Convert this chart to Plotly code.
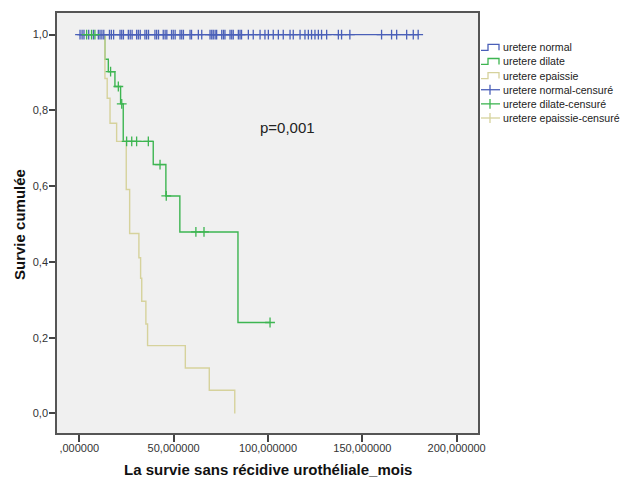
import plotly.graph_objects as go

# ---- data ----
normal_x = [0.0, 179.6]
normal_y = [1.0, 1.0]
normal_cens_x = [0.4, 1.5, 2.5, 5.0, 7.5, 10.1, 11.0, 12.0, 13.0, 16.0, 17.0, 18.2,
                 21.6, 22.5, 23.4, 26.0, 27.0, 28.0, 30.4, 31.3, 32.3, 34.8, 35.7, 36.7,
                 40.1, 41.0, 42.0, 44.5, 45.5, 46.4, 48.9, 49.8, 50.8, 53.4, 54.3, 55.2,
                 58.7, 59.5, 63.1, 64.9, 69.3, 70.2, 71.0, 72.0, 72.8, 75.5, 76.4, 77.2,
                 79.9, 80.8, 81.6, 84.3, 85.2, 86.0, 89.6, 92.2, 95.8, 98.4, 100.2, 102.8,
                 105.5, 108.1, 111.7, 113.4, 117.0, 119.6, 121.4, 123.1, 124.9, 126.7,
                 128.4, 131.1, 137.3, 139.0, 143.4, 160.2, 165.5, 168.2, 173.5, 177.0, 179.6]
normal_cens_y = [1.0] * len(normal_cens_x)

dilate_x = [0.0, 13.6, 15.4, 18.9, 21.9, 23.3, 39.2, 45.9, 53.3, 84.1, 101.1]
dilate_y = [1.0, 0.935, 0.902, 0.863, 0.817, 0.718, 0.657, 0.574, 0.479, 0.240, 0.240]
dilate_cens_x = [3.9, 6.5, 8.3, 16.6, 20.7, 22.5, 25.1, 27.8, 30.4, 36.6, 42.8, 46.1, 61.8, 66.1, 101.1]
dilate_cens_y = [1.0, 1.0, 1.0, 0.902, 0.863, 0.817, 0.718, 0.718, 0.718, 0.718, 0.657, 0.574, 0.479, 0.479, 0.240]

epaissie_x = [0.0, 13.6, 14.8, 16.3, 19.8, 24.9, 26.7, 31.6, 32.5, 33.1, 35.3, 36.2, 56.2, 68.9, 82.4]
epaissie_y = [1.0, 0.884, 0.832, 0.766, 0.718, 0.591, 0.475, 0.411, 0.357, 0.296, 0.236, 0.179, 0.120, 0.061, 0.0]

x_tickvals = [0, 50, 100, 150, 200]
x_ticktext = [",000000", "50,000000", "100,000000", "150,000000", "200,000000"]
y_tickvals = [0.0, 0.2, 0.4, 0.6, 0.8, 1.0]
y_ticktext = ["0,0", "0,2", "0,4", "0,6", "0,8", "1,0"]

legend_names = ["uretere normal", "uretere dilate", "uretere epaissie",
                "uretere normal-censuré", "uretere dilate-censuré", "uretere epaissie-censuré"]

BLUE = "#4a5fb8"
GREEN = "#3db551"
TAN = "#d6d29c"
colors = [BLUE, GREEN, TAN, BLUE, GREEN, TAN]

OFF = 8  # page body margin
W, H = 630 - OFF, 479 - OFF
# plot area in screen pixels: x 57..478, y 11..433
ML = 57 - OFF
MT = 11 - OFF
MR = W - (478 - OFF)
MB = H - (433 - OFF)
PW, PH = W - ML - MR, H - MT - MB


def px(x):
    """screen x pixel -> paper coordinate"""
    return (x - OFF - ML) / PW


def py(y):
    """screen y pixel -> paper coordinate"""
    return (H - MB - (y - OFF)) / PH


fig = go.Figure()
fig.add_trace(go.Scatter(x=normal_x, y=normal_y, mode="lines", line=dict(color=BLUE, width=1.2, shape="hv"),
                         name=legend_names[0], showlegend=False))
fig.add_trace(go.Scatter(x=dilate_x, y=dilate_y, mode="lines", line=dict(color=GREEN, width=1.4, shape="hv"),
                         name=legend_names[1], showlegend=False))
fig.add_trace(go.Scatter(x=epaissie_x, y=epaissie_y, mode="lines", line=dict(color=TAN, width=1.4, shape="hv"),
                         name=legend_names[2], showlegend=False))
fig.add_trace(go.Scatter(x=normal_cens_x, y=normal_cens_y, mode="markers",
                         marker=dict(symbol="cross-thin", size=7, line=dict(color=BLUE, width=1.3)),
                         name=legend_names[3], showlegend=False))
fig.add_trace(go.Scatter(x=dilate_cens_x, y=dilate_cens_y, mode="markers",
                         marker=dict(symbol="cross-thin", size=7, line=dict(color=GREEN, width=1.3)),
                         name=legend_names[4], showlegend=False))

# manual legend (compact, SPSS-like)
shapes = []
annotations = []
y0 = 45.5
step = 14.2
for i, name in enumerate(legend_names):
    yc = y0 + i * step
    c = colors[i]
    if i < 3:
        path = "M {a},{b} L {c1},{b} L {c1},{d} L {e},{d} L {e},{b}".format(
            a=px(481), b=py(yc + 3), c1=px(488), d=py(yc - 3), e=px(499))
        shapes.append(dict(type="path", xref="paper", yref="paper", path=path,
                           line=dict(color=c, width=1.3)))
    else:
        shapes.append(dict(type="line", xref="paper", yref="paper", x0=px(481), x1=px(500),
                           y0=py(yc), y1=py(yc), line=dict(color=c, width=1.3)))
        shapes.append(dict(type="line", xref="paper", yref="paper", x0=px(490), x1=px(490),
                           y0=py(yc - 5), y1=py(yc + 5), line=dict(color=c, width=1.3)))
    annotations.append(dict(x=px(501), y=py(yc), xref="paper", yref="paper", text=name,
                            showarrow=False, xanchor="left", yanchor="middle",
                            font=dict(size=10.6, color="#222", family="Liberation Sans")))

annotations.append(dict(x=110.6, y=0.755, xref="x", yref="y", text="p=0,001", showarrow=False,
                        font=dict(size=15, color="#222", family="Liberation Sans")))
annotations.append(dict(x=0.5, y=py(470), xref="paper", yref="paper",
                        text="<b>La survie sans récidive urothéliale_mois</b>", showarrow=False,
                        xanchor="center", yanchor="middle",
                        font=dict(size=15, color="#111", family="Liberation Sans")))
annotations.append(dict(x=px(20), y=py(224), xref="paper", yref="paper",
                        text="<b>Survie cumulée</b>", showarrow=False, textangle=-90,
                        xanchor="center", yanchor="middle",
                        font=dict(size=15, color="#111", family="Liberation Sans")))

fig.update_layout(
    width=W, height=H,
    margin=dict(l=ML, r=MR, t=MT, b=MB, pad=0),
    paper_bgcolor="white",
    plot_bgcolor="#f0f0f0",
    showlegend=False,
    shapes=shapes,
    annotations=annotations,
    font=dict(family="Liberation Sans", size=11, color="#222"),
)
fig.update_xaxes(range=[-11.8, 211.3], tickvals=x_tickvals, ticktext=x_ticktext,
                 showgrid=False, zeroline=False, showline=True, mirror=True,
                 linecolor="#555", linewidth=1.5, ticks="outside", ticklen=7, tickwidth=1.5,
                 tickcolor="#444", tickfont=dict(size=11, color="#333"), ticklabelstandoff=-3)
fig.update_yaxes(range=[-0.0517, 1.057], tickvals=y_tickvals, ticktext=y_ticktext,
                 showgrid=False, zeroline=False, showline=True, mirror=True,
                 linecolor="#555", linewidth=1.5, ticks="outside", ticklen=6, tickwidth=1.5,
                 tickcolor="#444", tickfont=dict(size=11, color="#333"), ticklabelstandoff=-1)

fig.write_html("out.html")
